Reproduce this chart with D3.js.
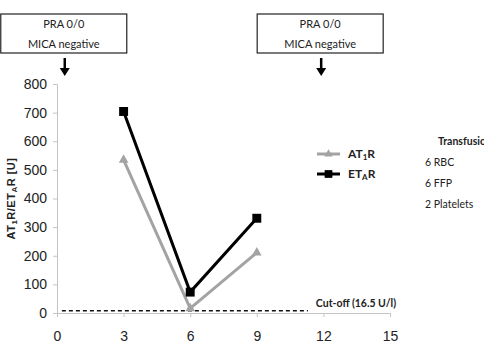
<!DOCTYPE html>
<html>
<head>
<meta charset="utf-8">
<script src="https://cdn.jsdelivr.net/npm/d3@7"></script>
<style>
  body { margin: 0; background: #fff; }
  svg { display: block; }
</style>
</head>
<body>
<svg id="vis"></svg>
<script>
const WIDTH = 484;
const HEIGHT = 348;

// data
const months = [3, 6, 9];
const at1r = [535, 16, 211];
const etar = [704, 73, 331];
const xTicks = [0, 3, 6, 9, 12, 15];
const yTicks = [0, 100, 200, 300, 400, 500, 600, 700, 800];
const cutoff = 8;
const cutoffRange = [0.22, 11.3];
const boxAt = [0.35, 11.9];
const boxLines = ["PRA 0/0", "MICA negative"];
const transfusion = ["6 RBC", "6 FFP", "2 Platelets"];

const margin = {top: 84, right: 94, bottom: 35, left: 57};
const svg = d3.select("#vis").attr("width", WIDTH).attr("height", HEIGHT);

const x = d3.scaleLinear().domain([0, 15]).range([margin.left, WIDTH - margin.right]);
const y = d3.scaleLinear().domain([0, 800]).range([HEIGHT - margin.bottom, margin.top]);

const AXIS_COLOR = "#c4c4c4";
const GRAY = "#a3a3a3";

// axes
const yAxis = svg.append("g")
    .attr("transform", "translate(" + x(0) + ",0)")
    .call(d3.axisLeft(y).tickValues(yTicks).tickSize(4).tickPadding(6));
const xAxis = svg.append("g")
    .attr("transform", "translate(0," + y(0) + ")")
    .call(d3.axisBottom(x).tickValues(xTicks).tickSize(4).tickPadding(14));
[yAxis, xAxis].forEach(g => {
    g.select(".domain").attr("stroke", AXIS_COLOR);
    g.selectAll(".tick line").attr("stroke", AXIS_COLOR);
    g.selectAll(".tick text")
        .attr("fill", "#222")
        .style("font-family", "Liberation Sans, Arial, sans-serif")
        .style("font-size", "14px");
});

// y label
const yLabel = svg.append("text")
    .attr("transform", "translate(15," + y(400) + ") rotate(-90)")
    .attr("text-anchor", "middle")
    .style("font-family", "Liberation Sans, Arial, sans-serif")
    .style("font-size", "11px")
    .style("font-weight", "bold")
    .style("letter-spacing", "0.5px")
    .attr("fill", "#222");
yLabel.append("tspan").text("AT");
yLabel.append("tspan").attr("baseline-shift", "-20%").style("font-size", "8px").text("1");
yLabel.append("tspan").text("R/ET");
yLabel.append("tspan").attr("baseline-shift", "-20%").style("font-size", "8px").text("A");
yLabel.append("tspan").text("R [U]");

// cut-off line
svg.append("line")
    .attr("x1", x(cutoffRange[0]))
    .attr("x2", x(cutoffRange[1]))
    .attr("y1", y(cutoff))
    .attr("y2", y(cutoff))
    .attr("stroke", "#111")
    .attr("stroke-width", 1.5)
    .attr("stroke-dasharray", "4,3");
svg.append("text")
    .attr("x", x(cutoffRange[1]) + 8)
    .attr("y", y(cutoff) - 4)
    .style("font-family", "Lato, Carlito, sans-serif")
    .style("font-size", "10.5px")
    .style("font-weight", "bold")
    .attr("fill", "#222")
    .text("Cut-off (16.5 U/l)");

// series
const line = d3.line().x(d => x(d[0])).y(d => y(d[1]));
const series = [
    {name: "AT", sub: "1", values: at1r, color: GRAY, marker: "triangle"},
    {name: "ET", sub: "A", values: etar, color: "#000", marker: "square"}
];

series.forEach(s => {
    const pts = months.map((m, i) => [m, s.values[i]]);
    svg.append("path")
        .attr("d", line(pts))
        .attr("fill", "none")
        .attr("stroke", s.color)
        .attr("stroke-width", 3);
    const sym = s.marker === "square" ? d3.symbolSquare : d3.symbolTriangle;
    svg.selectAll(null).data(pts).join("path")
        .attr("transform", d => "translate(" + x(d[0]) + "," + y(d[1]) + ")")
        .attr("d", d3.symbol().type(sym).size(s.marker === "square" ? 80 : 40))
        .attr("fill", s.color);
});

// legend
series.forEach((s, i) => {
    const ly = 154 + i * 20;
    const g = svg.append("g").attr("transform", "translate(317," + ly + ")");
    g.append("line").attr("x1", 0).attr("x2", 23)
        .attr("stroke", s.color).attr("stroke-width", 3);
    g.append("path")
        .attr("transform", "translate(11.5,0)")
        .attr("d", d3.symbol().type(s.marker === "square" ? d3.symbolSquare : d3.symbolTriangle)
            .size(s.marker === "square" ? 60 : 30))
        .attr("fill", s.color);
    const t = g.append("text").attr("x", 31).attr("y", 4)
        .style("font-family", "Lato, Carlito, sans-serif")
        .style("font-size", "12px")
        .style("font-weight", "bold")
        .attr("fill", "#222");
    t.append("tspan").text(s.name);
    t.append("tspan").attr("baseline-shift", "-20%").style("font-size", "8px").text(s.sub);
    t.append("tspan").text("R");
});

// transfusion notes
svg.append("text")
    .attr("x", 438).attr("y", 145)
    .style("font-family", "Lato, Carlito, sans-serif")
    .style("font-size", "10.5px")
    .style("font-weight", "bold")
    .attr("fill", "#222")
    .text("Transfusions");
svg.selectAll(null).data(transfusion).join("text")
    .attr("x", 425)
    .attr("y", (d, i) => 166 + i * 21)
    .style("font-family", "Lato, Carlito, sans-serif")
    .style("font-size", "10.5px")
    .attr("fill", "#222")
    .text(d => d);

// boxes with arrows
const boxW = 126, boxH = 39;
boxAt.forEach(v => {
    const cx = x(v);
    const g = svg.append("g");
    g.append("rect")
        .attr("x", cx - boxW / 2 - 1).attr("y", 14)
        .attr("width", boxW).attr("height", boxH)
        .attr("fill", "#fff").attr("stroke", "#222").attr("stroke-width", 1.2);
    g.selectAll(null).data(boxLines).join("text")
        .attr("x", cx - 1)
        .attr("y", (d, i) => 28 + i * 20)
        .attr("text-anchor", "middle")
        .style("font-family", "Lato, Carlito, sans-serif")
        .style("font-size", "11px")
        .attr("fill", "#222")
        .text(d => d);
    g.append("line")
        .attr("x1", cx).attr("x2", cx).attr("y1", 58).attr("y2", 70)
        .attr("stroke", "#000").attr("stroke-width", 2.5);
    g.append("path")
        .attr("d", d3.line()([[cx - 5, 68], [cx + 5, 68], [cx, 76]]))
        .attr("fill", "#000");
});
</script>
</body>
</html>
